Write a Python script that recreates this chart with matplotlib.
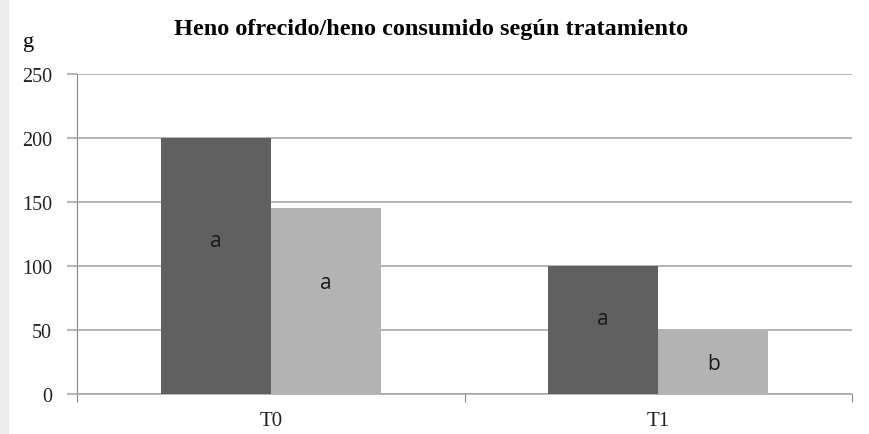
import matplotlib.pyplot as plt
from matplotlib.patches import Rectangle
import numpy as np

categories = ['T0', 'T1']
ofrecido = [200, 100]
consumido = [145, 51]
letras_ofrecido = ['a', 'a']
letras_consumido = ['a', 'b']
# height of the letter inside each bar, as fraction of bar height
pos_ofrecido = [0.6, 0.59]
pos_consumido = [0.6, 0.46]

fig = plt.figure(figsize=(8.7, 4.35), dpi=100, facecolor='white')
fig.patches.append(Rectangle((0, 0), 8 / 870, 1, transform=fig.transFigure,
                             color='#ececec', zorder=0))
ax = fig.add_axes([77 / 870, 40 / 435, 775 / 870, 320 / 435])

x = np.arange(len(categories))
w = 0.284
ax.bar(x - w / 2, ofrecido, w, color='#606060', zorder=3)
ax.bar(x + w / 2, consumido, w, color='#b3b3b3', zorder=3)

for i in range(len(categories)):
    ax.text(x[i] - w / 2, ofrecido[i] * pos_ofrecido[i], letras_ofrecido[i],
            ha='center', va='center', fontsize=15, family='Open Sans', color='#1a1a1a', zorder=4)
    ax.text(x[i] + w / 2, consumido[i] * pos_consumido[i], letras_consumido[i],
            ha='center', va='center', fontsize=15, family='Open Sans', color='#1a1a1a', zorder=4)

ax.set_xlim(-0.5, 1.5)
ax.set_ylim(0, 250)
ax.set_yticks(np.arange(0, 251, 50))
ax.yaxis.grid(True, color='#a8a8a8', linewidth=1.2, zorder=0)
ax.set_xticks([-0.5, 0.5, 1.5])
ax.set_xticklabels([])
ax.set_xticks(x, minor=True)
ax.set_xticklabels(categories, minor=True, family='Liberation Serif', fontsize=15, color='#222222')
ax.tick_params(axis='x', which='minor', length=0, pad=12)
ax.tick_params(axis='x', which='major', length=6, color='#888888', direction='out')
ax.tick_params(axis='y', length=7, color='#a8a8a8', width=1.2, pad=11)
for lab in ax.get_yticklabels():
    lab.set_family('Liberation Serif')
    lab.set_fontsize(14.5)
    lab.set_color('#222222')

for s in ['top', 'right']:
    ax.spines[s].set_visible(False)
ax.spines['left'].set_color('#888888')
ax.spines['bottom'].set_color('#a8a8a8')
ax.spines['bottom'].set_linewidth(1.2)

fig.text(431 / 870, 1 - 29 / 435, 'Heno ofrecido/heno consumido según tratamiento',
         ha='center', va='center', family='Liberation Serif', fontweight='bold', fontsize=17.5)
fig.text(29 / 870, 1 - 43 / 435, 'g', ha='center', va='center',
         family='Liberation Serif', fontsize=16)

plt.savefig('out.png', dpi=100)
